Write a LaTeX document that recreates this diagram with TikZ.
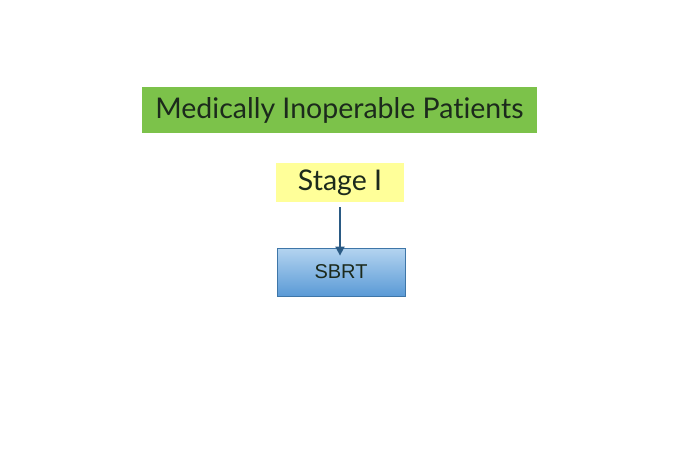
\documentclass[tikz,border=0pt]{standalone}
\usepackage{fontspec}
\setmainfont{Lato}[Ligatures=NoCommon]
\newfontfamily\arialfont{Liberation Sans}
\usetikzlibrary{arrows.meta}
\definecolor{leaf}{HTML}{7CC24A}
\definecolor{lemon}{HTML}{FFFF99}
\definecolor{skytop}{HTML}{B4D4F0}
\definecolor{skybot}{HTML}{5A9AD6}
\definecolor{skyedge}{HTML}{3E76A8}
\definecolor{navy}{HTML}{2A5A84}
\definecolor{ink}{HTML}{1C2A1C}

\begin{document}
\begin{tikzpicture}[
  x=1pt,y=-1pt,
  title/.style={fill=leaf,minimum width=395pt,minimum height=46pt,inner sep=0pt,
    text=ink,font=\fontsize{28.5}{32}\selectfont},
  stagebox/.style={fill=lemon,minimum width=128pt,minimum height=39pt,inner sep=0pt,
    text=ink,font=\fontsize{28.5}{32}\selectfont},
  treat/.style={draw=skyedge,line width=.8pt,top color=skytop,bottom color=skybot,
    minimum width=128pt,minimum height=48pt,inner sep=0pt,
    font=\arialfont\fontsize{20}{24}\selectfont,text=ink},
  flow/.style={draw=navy,line width=1.8pt,-{Triangle[length=9pt,width=9pt]}}
]
\path[use as bounding box] (0,0) rectangle (700,472);
\node[title] (group) at (339.5,110) {Medically Inoperable Patients};
\node[stagebox] (stage) at (340,182.5) {Stage I};
\node[treat] (sbrt) at (341,272) {SBRT};
\draw[flow] ([yshift=-5pt]stage.south) -- ([yshift=-8pt]stage.south |- sbrt.north);
\end{tikzpicture}
\end{document}
